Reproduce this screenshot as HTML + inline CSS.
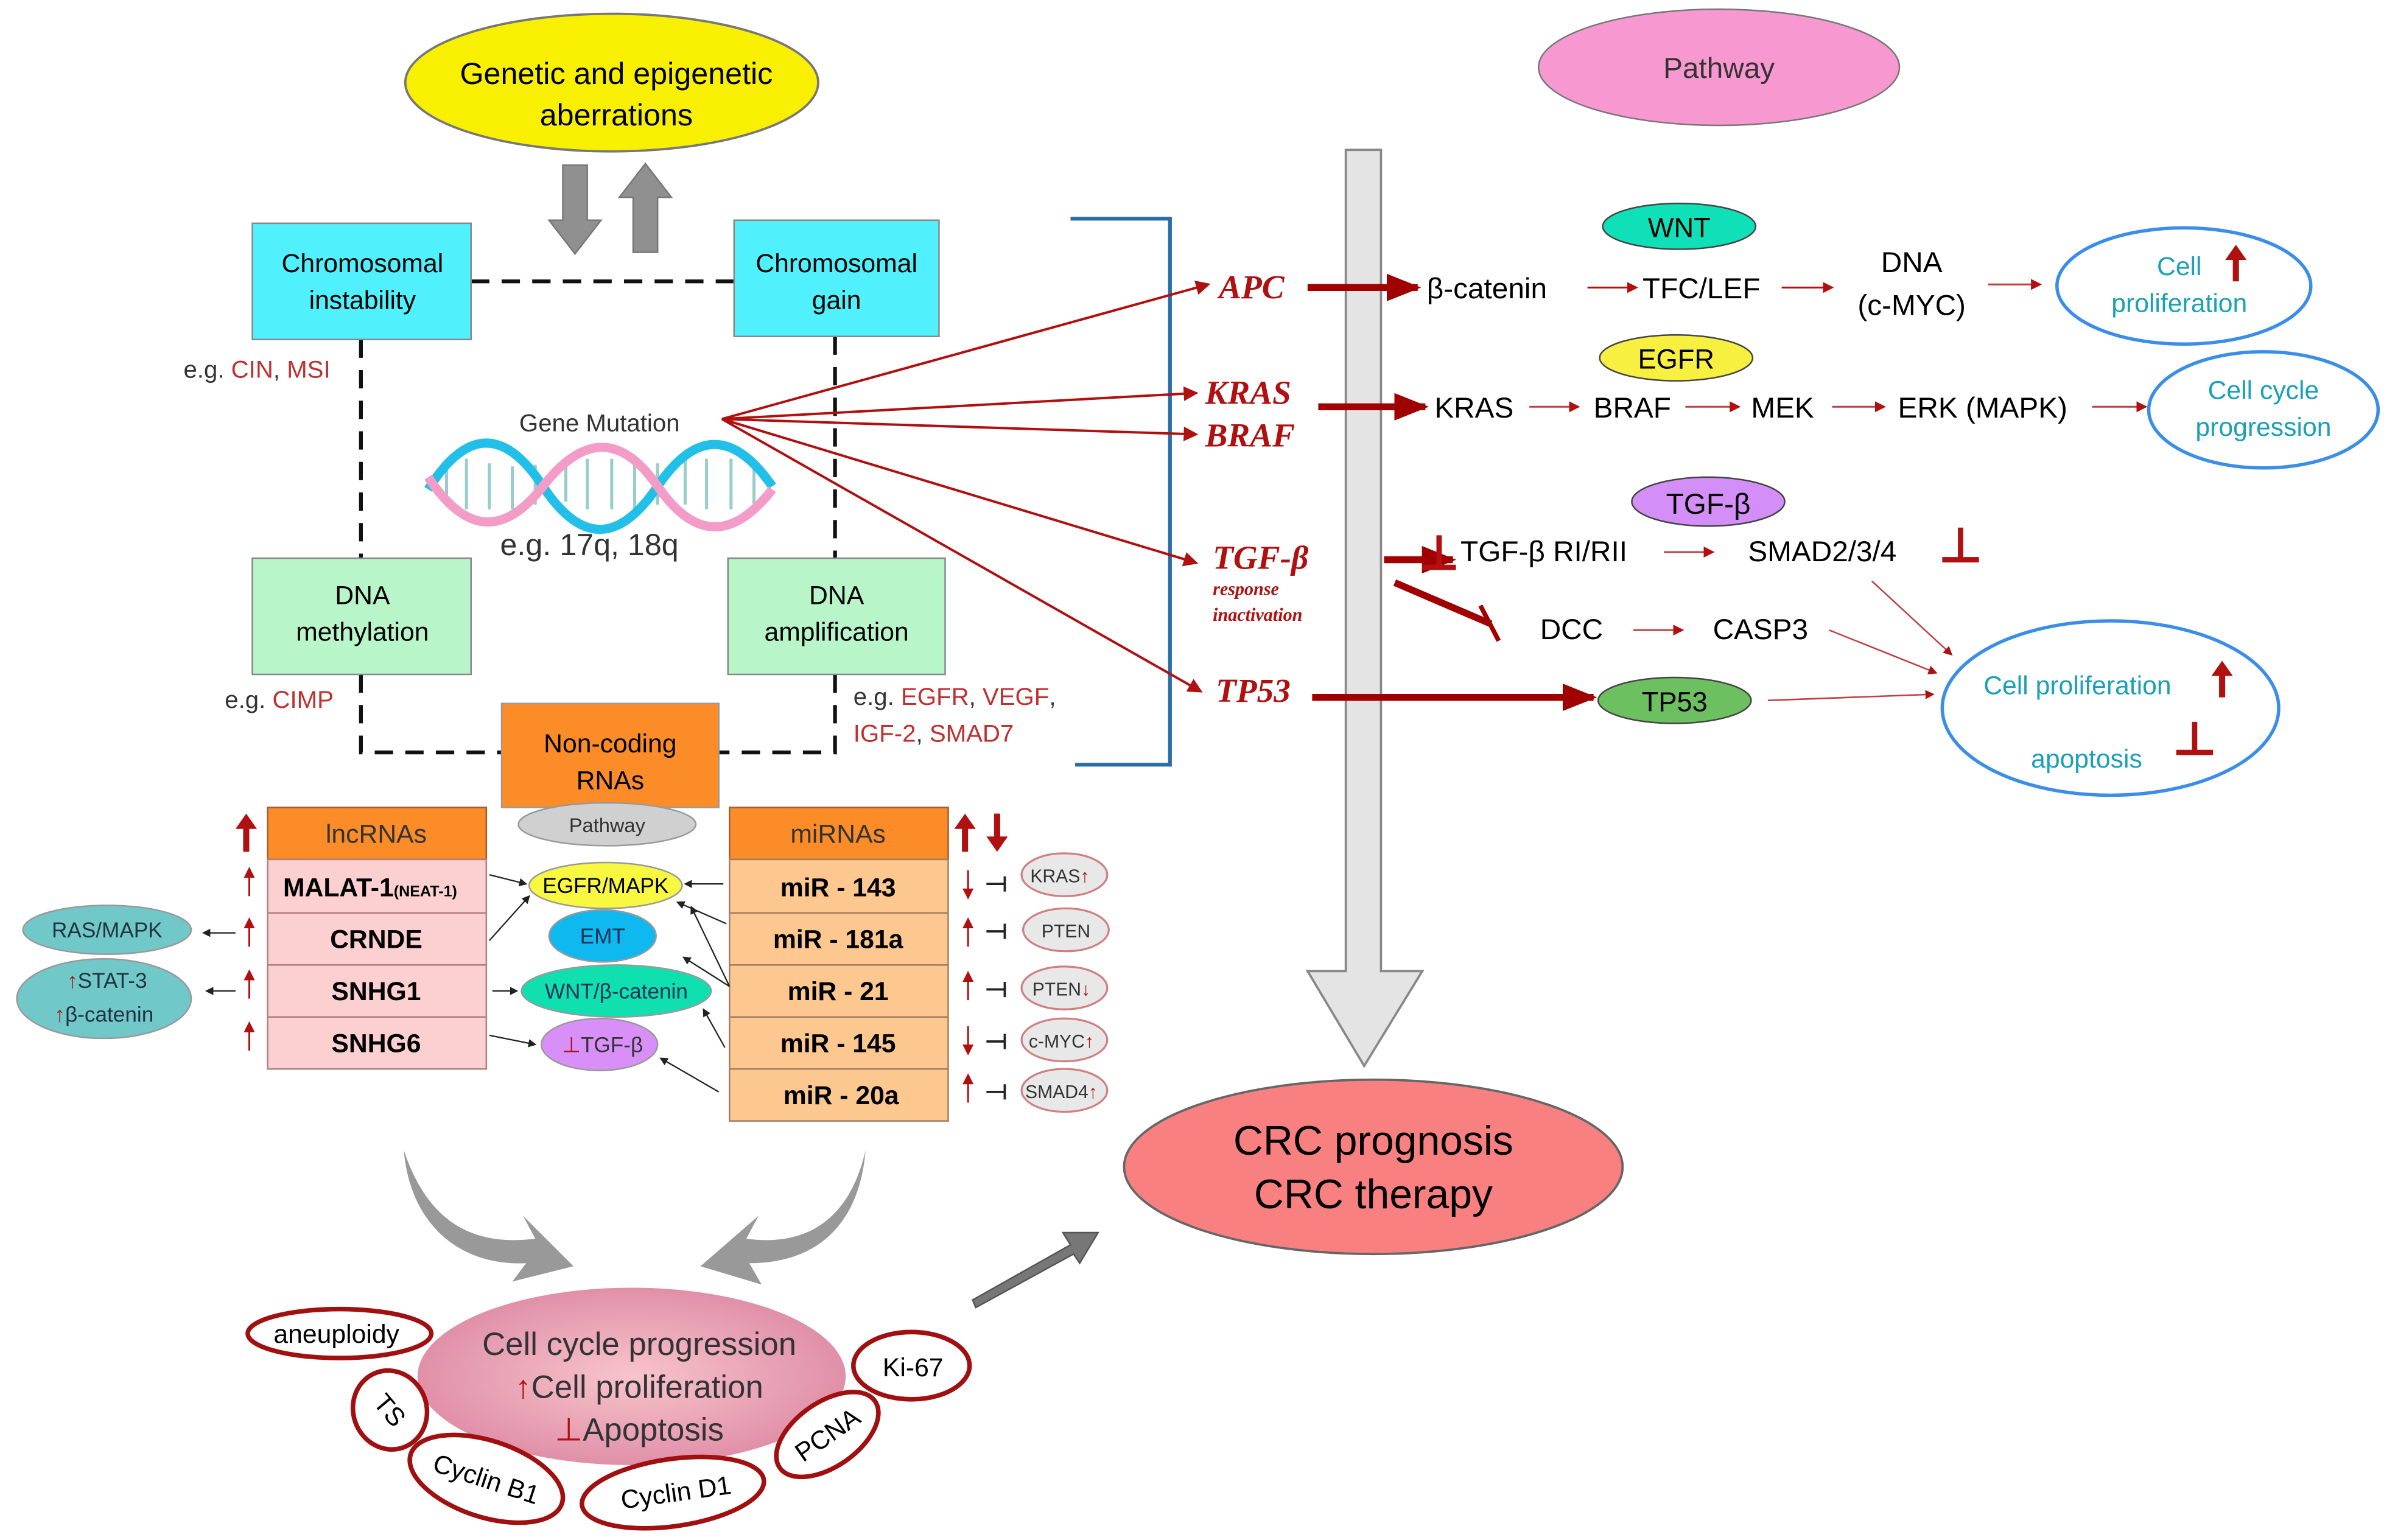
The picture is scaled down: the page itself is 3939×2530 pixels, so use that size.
<!DOCTYPE html>
<html><head><meta charset="utf-8"><style>
html,body{margin:0;padding:0;background:#fff;width:3939px;height:2530px;overflow:hidden}
svg{display:block}
text{font-family:"Liberation Sans","DejaVu Sans",sans-serif}
.ser{font-family:"Liberation Serif",serif;font-style:italic;font-weight:bold;fill:#b01010}
</style></head><body>
<svg width="3939" height="2530" viewBox="0 0 1568 1007" preserveAspectRatio="none" xmlns="http://www.w3.org/2000/svg">
<defs>
<marker id="ar" markerWidth="6" markerHeight="6" refX="5" refY="3" orient="auto" markerUnits="strokeWidth"><path d="M0,0 L6,3 L0,6 z" fill="#b01010"/></marker>
<marker id="ar2" markerWidth="5" markerHeight="4" refX="4.5" refY="2" orient="auto" markerUnits="strokeWidth"><path d="M0,0 L5,2 L0,4 z" fill="#a00000"/></marker>
<marker id="ak" markerWidth="6" markerHeight="6" refX="5" refY="3" orient="auto" markerUnits="strokeWidth"><path d="M0,0 L6,3 L0,6 z" fill="#222"/></marker>
<radialGradient id="pg" cx="50%" cy="50%" r="50%"><stop offset="0" stop-color="#f8c4cc"/><stop offset="1" stop-color="#e090a8"/></radialGradient>
</defs>

<!-- top ellipses -->
<ellipse cx="400" cy="54" rx="135" ry="45" fill="#f8f000" stroke="#777" stroke-width="1.5"/>
<text x="403" y="55" font-size="20" text-anchor="middle">Genetic and epigenetic</text>
<text x="403" y="82" font-size="20" text-anchor="middle">aberrations</text>
<ellipse cx="1124" cy="44" rx="118" ry="38" fill="#f898d0" stroke="#777"/>
<text x="1124" y="51" font-size="19" text-anchor="middle" fill="#333">Pathway</text>

<!-- gray small arrows -->
<path d="M368,108 h16 v36 h9 l-17,22 l-17,-22 h9 z" fill="#909090" stroke="#777"/>
<path d="M414,165 h16 v-36 h9 l-17,-22 l-17,22 h9 z" fill="#909090" stroke="#777"/>

<!-- dashed frame -->
<g stroke="#111" stroke-width="2.5" stroke-dasharray="12,8" fill="none">
<path d="M308,184 H480"/><path d="M236,222 V365"/><path d="M236,441 V492 H328"/>
<path d="M546,220 V365"/><path d="M546,441 V492 H470"/>
</g>
<rect x="165" y="146" width="143" height="76" fill="#50f0fc" stroke="#888"/>
<text x="237" y="178" font-size="17" text-anchor="middle">Chromosomal</text>
<text x="237" y="202" font-size="17" text-anchor="middle">instability</text>
<rect x="480" y="144" width="134" height="76" fill="#50f0fc" stroke="#888"/>
<text x="547" y="178" font-size="17" text-anchor="middle">Chromosomal</text>
<text x="547" y="202" font-size="17" text-anchor="middle">gain</text>
<rect x="165" y="365" width="143" height="76" fill="#b8f5c8" stroke="#888"/>
<text x="237" y="395" font-size="17" text-anchor="middle">DNA</text>
<text x="237" y="419" font-size="17" text-anchor="middle">methylation</text>
<rect x="476" y="365" width="142" height="76" fill="#b8f5c8" stroke="#888"/>
<text x="547" y="395" font-size="17" text-anchor="middle">DNA</text>
<text x="547" y="419" font-size="17" text-anchor="middle">amplification</text>
<rect x="328" y="460" width="142" height="68" fill="#fb8c28" stroke="#999"/>
<text x="399" y="492" font-size="17" text-anchor="middle">Non-coding</text>
<text x="399" y="516" font-size="17" text-anchor="middle">RNAs</text>

<text x="120" y="247" font-size="16" fill="#333">e.g. <tspan fill="#c03030">CIN</tspan>, <tspan fill="#c03030">MSI</tspan></text>
<text x="147" y="463" font-size="16" fill="#333">e.g. <tspan fill="#c03030">CIMP</tspan></text>
<text x="558" y="461" font-size="16" fill="#333">e.g. <tspan fill="#c03030">EGFR</tspan>, <tspan fill="#c03030">VEGF</tspan>,</text>
<text x="558" y="485" font-size="16" fill="#c03030">IGF-2<tspan fill="#333">, </tspan>SMAD7</text>

<text x="392" y="282" font-size="16" text-anchor="middle" fill="#333">Gene Mutation</text>
<g stroke-width="6" fill="none">
<g stroke="#9cc" stroke-width="2">
<path d="M292,300V330M305,300V333M320,303V333M335,305V333M350,304V330M370,300V328M384,300V333M400,300V333M415,303V333M430,303V330M448,300V330M462,300V333M478,300V333M493,303V333"/>
</g>
<path d="M280,320 C305,280 330,280 355,318 S405,355 430,318 S480,282 505,318" stroke="#22c0e8"/>
<path d="M280,312 C305,350 330,350 355,318 S405,282 430,318 S480,352 505,320" stroke="#f49cc8"/>
</g>
<text x="327" y="363" font-size="20" fill="#333">e.g. 17q, 18q</text>

<path d="M700,143 H765 V500 H703" fill="none" stroke="#2a6ea8" stroke-width="2.5"/>

<g stroke="#b01010" stroke-width="1.6" fill="none" marker-end="url(#ar)">
<path d="M472,274 L790,186"/><path d="M472,274 L782,257"/><path d="M472,274 L782,284"/>
<path d="M472,274 L782,368"/><path d="M472,274 L785,452"/>
</g>
<text x="797" y="195" font-size="22" class="ser">APC</text>
<text x="788" y="264" font-size="22" class="ser">KRAS</text>
<text x="788" y="292" font-size="22" class="ser">BRAF</text>
<text x="793" y="372" font-size="22" class="ser">TGF-β</text>
<text x="793" y="389" font-size="12" class="ser" font-style="normal">response</text>
<text x="793" y="406" font-size="12" class="ser" font-style="normal">inactivation</text>
<text x="795" y="459" font-size="22" class="ser">TP53</text>

<path d="M880,98 H903 V635 H930 L892,697 L855,635 H880 Z" fill="#e4e4e4" stroke="#888" stroke-width="1.5"/>

<g stroke="#a00000" stroke-width="4.5" fill="none" marker-end="url(#ar2)">
<path d="M855,188 H927"/><path d="M862,266 H932"/><path d="M905,366 H950"/><path d="M858,456 H1042"/>
</g>
<path d="M912,381 L975,408" stroke="#a00000" stroke-width="4.5"/>
<path d="M968,396 L980,419" stroke="#a00000" stroke-width="3"/>

<ellipse cx="1098" cy="148" rx="50" ry="15" fill="#10e0b8" stroke="#444"/>
<text x="1098" y="155" font-size="18" text-anchor="middle">WNT</text>
<text x="933" y="195" font-size="19">β-catenin</text>
<path d="M1038,188 H1070" stroke="#b01010" stroke-width="1.2" marker-end="url(#ar)"/>
<text x="1074" y="195" font-size="19">TFC/LEF</text>
<path d="M1165,188 H1198" stroke="#b01010" stroke-width="1.2" marker-end="url(#ar)"/>
<text x="1250" y="178" font-size="19" text-anchor="middle">DNA</text>
<text x="1250" y="206" font-size="19" text-anchor="middle">(c-MYC)</text>
<path d="M1300,186 H1334" stroke="#c04040" stroke-width="1.2" marker-end="url(#ar)"/>
<ellipse cx="1428" cy="187" rx="83" ry="38" fill="none" stroke="#3a8ee8" stroke-width="2.2"/>
<text x="1425" y="180" font-size="17" text-anchor="middle" fill="#1aa0b8">Cell</text>
<text x="1425" y="204" font-size="17" text-anchor="middle" fill="#1aa0b8">proliferation</text>
<path d="M1460,184 V170 h-5 l7,-10 l7,10 h-5 V184 z" fill="#b01010"/>

<ellipse cx="1096" cy="234" rx="50" ry="15" fill="#f8f040" stroke="#444"/>
<text x="1096" y="241" font-size="18" text-anchor="middle">EGFR</text>
<text x="938" y="273" font-size="19">KRAS</text>
<path d="M1000,266 H1032" stroke="#c04040" stroke-width="1.2" marker-end="url(#ar)"/>
<text x="1042" y="273" font-size="19">BRAF</text>
<path d="M1102,266 H1137" stroke="#c04040" stroke-width="1.2" marker-end="url(#ar)"/>
<text x="1145" y="273" font-size="19">MEK</text>
<path d="M1198,266 H1232" stroke="#c04040" stroke-width="1.2" marker-end="url(#ar)"/>
<text x="1241" y="273" font-size="19">ERK (MAPK)</text>
<path d="M1368,266 H1403" stroke="#c04040" stroke-width="1.2" marker-end="url(#ar)"/>
<ellipse cx="1480" cy="268" rx="75" ry="38" fill="none" stroke="#3a8ee8" stroke-width="2.2"/>
<text x="1480" y="261" font-size="17" text-anchor="middle" fill="#1aa0b8">Cell cycle</text>
<text x="1480" y="285" font-size="17" text-anchor="middle" fill="#1aa0b8">progression</text>

<ellipse cx="1117" cy="328" rx="50" ry="16" fill="#d48ef8" stroke="#444"/>
<text x="1117" y="336" font-size="19" text-anchor="middle">TGF-β</text>
<path d="M930,371 h22 M941,371 V350" stroke="#b01010" stroke-width="3.5"/>
<text x="955" y="367" font-size="19">TGF-β RI/RII</text>
<path d="M1088,361 H1120" stroke="#c04040" stroke-width="1.2" marker-end="url(#ar)"/>
<text x="1143" y="367" font-size="19">SMAD2/3/4</text>
<path d="M1270,366 h24 M1282,366 V345" stroke="#b01010" stroke-width="3.5"/>
<text x="1007" y="418" font-size="19">DCC</text>
<path d="M1068,412 H1100" stroke="#c04040" stroke-width="1.2" marker-end="url(#ar)"/>
<text x="1120" y="418" font-size="19">CASP3</text>
<path d="M1224,380 L1276,428" stroke="#c04040" stroke-width="1" marker-end="url(#ar)"/>
<path d="M1196,412 L1266,440" stroke="#c04040" stroke-width="1" marker-end="url(#ar)"/>
<ellipse cx="1095" cy="458" rx="50" ry="15" fill="#6cc060" stroke="#444"/>
<text x="1095" y="465" font-size="18" text-anchor="middle">TP53</text>
<path d="M1156,458 L1264,454" stroke="#c04040" stroke-width="1" marker-end="url(#ar)"/>
<ellipse cx="1380" cy="463" rx="110" ry="57" fill="none" stroke="#3a8ee8" stroke-width="2.2"/>
<text x="1297" y="454" font-size="17" fill="#1aa0b8">Cell proliferation</text>
<path d="M1451,456 V442 h-5 l7,-10 l7,10 h-5 V456 z" fill="#b01010"/>
<text x="1328" y="502" font-size="17" fill="#1aa0b8">apoptosis</text>
<path d="M1423,492 h24 M1435,492 V472" stroke="#b01010" stroke-width="3.5"/>

<ellipse cx="898" cy="763" rx="163" ry="57" fill="#f88080" stroke="#666" stroke-width="1.5"/>
<text x="898" y="755" font-size="27" text-anchor="middle">CRC prognosis</text>
<text x="898" y="790" font-size="27" text-anchor="middle">CRC therapy</text>

<rect x="175" y="528" width="143" height="34" fill="#fb8c28" stroke="#a06030"/>
<text x="246" y="551" font-size="17" text-anchor="middle" fill="#333">lncRNAs</text>
<g fill="#fcd0d0" stroke="#b08080">
<rect x="175" y="562" width="143" height="35"/><rect x="175" y="597" width="143" height="34"/>
<rect x="175" y="631" width="143" height="34"/><rect x="175" y="665" width="143" height="34"/>
</g>
<g font-size="17" font-weight="bold" text-anchor="middle">
<text x="242" y="586">MALAT-1<tspan font-size="10">(NEAT-1)</tspan></text>
<text x="246" y="620">CRNDE</text><text x="246" y="654">SNHG1</text><text x="246" y="688">SNHG6</text>
</g>
<rect x="477" y="528" width="143" height="34" fill="#fb8c28" stroke="#a06030"/>
<text x="548" y="551" font-size="17" text-anchor="middle" fill="#333">miRNAs</text>
<g fill="#fdc890" stroke="#a08060">
<rect x="477" y="562" width="143" height="35"/><rect x="477" y="597" width="143" height="34"/>
<rect x="477" y="631" width="143" height="34"/><rect x="477" y="665" width="143" height="34"/><rect x="477" y="699" width="143" height="34"/>
</g>
<g font-size="17" font-weight="bold" text-anchor="middle">
<text x="548" y="586">miR - 143</text><text x="548" y="620">miR - 181a</text><text x="548" y="654">miR - 21</text>
<text x="548" y="688">miR - 145</text><text x="550" y="722">miR - 20a</text>
</g>
<g fill="#b01010">
<path d="M159,557 V542 h-5 l7,-10 l7,10 h-5 V557 z"/>
<path d="M629,557 V542 h-5 l7,-10 l7,10 h-5 V557 z"/>
<path d="M650,532 V547 h-5 l7,10 l7,-10 h-5 V532 z"/>
</g>
<g stroke="#b01010" stroke-width="1.2" marker-end="url(#ar)">
<path d="M163,586 V568"/><path d="M163,619 V601"/><path d="M163,653 V635"/><path d="M163,687 V669"/>
<path d="M633,569 V587"/><path d="M633,619 V601"/><path d="M633,654 V636"/><path d="M633,671 V689"/><path d="M633,721 V703"/>
</g>
<g stroke="#222" stroke-width="1.5">
<path d="M645,578 h12 M657,573 v10"/><path d="M645,609 h12 M657,604 v10"/><path d="M645,647 h12 M657,642 v10"/><path d="M645,681 h12 M657,676 v10"/><path d="M645,714 h12 M657,709 v10"/>
</g>
<g fill="#e8e8e8" stroke="#d08080" stroke-width="1.3">
<ellipse cx="696" cy="572" rx="28" ry="14"/><ellipse cx="697" cy="608" rx="28" ry="14"/><ellipse cx="696" cy="646" rx="28" ry="14"/><ellipse cx="696" cy="680" rx="28" ry="14"/><ellipse cx="696" cy="713" rx="28" ry="14"/>
</g>
<g font-size="12" text-anchor="middle" fill="#333">
<text x="693" y="577">KRAS<tspan fill="#b01010">↑</tspan></text><text x="697" y="613">PTEN</text><text x="694" y="651">PTEN<tspan fill="#b01010">↓</tspan></text>
<text x="694" y="685">c-MYC<tspan fill="#b01010">↑</tspan></text><text x="694" y="718">SMAD4<tspan fill="#b01010">↑</tspan></text>
</g>

<ellipse cx="397" cy="539" rx="58" ry="14" fill="#d0d0d0" stroke="#999"/>
<text x="397" y="544" font-size="13" text-anchor="middle" fill="#333">Pathway</text>
<ellipse cx="396" cy="579" rx="50" ry="15" fill="#f8f840" stroke="#999"/>
<text x="396" y="584" font-size="14" text-anchor="middle">EGFR/MAPK</text>
<ellipse cx="394" cy="612" rx="35" ry="17" fill="#10b8f0" stroke="#999"/>
<text x="394" y="617" font-size="14" text-anchor="middle" fill="#135">EMT</text>
<ellipse cx="403" cy="648" rx="62" ry="17" fill="#10e0b0" stroke="#999"/>
<text x="403" y="653" font-size="14" text-anchor="middle" fill="#135">WNT/β-catenin</text>
<ellipse cx="392" cy="683" rx="38" ry="17" fill="#d890f8" stroke="#999"/>
<text x="394" y="688" font-size="14" text-anchor="middle" fill="#333"><tspan fill="#b01010">⊥</tspan>TGF-β</text>

<g stroke="#222" stroke-width="0.9" fill="none" marker-end="url(#ak)">
<path d="M320,572 L344,578"/><path d="M320,615 L346,586"/><path d="M322,648 L338,648"/><path d="M320,677 L350,683"/>
<path d="M473,578 L448,578"/><path d="M475,604 L443,590"/><path d="M477,645 L452,593"/><path d="M477,645 L447,626"/><path d="M474,685 L460,660"/><path d="M470,714 L432,692"/>
<path d="M154,610 L133,610"/><path d="M154,648 L135,648"/>
</g>
<ellipse cx="70" cy="608" rx="55" ry="16" fill="#70c8c8" stroke="#999"/>
<text x="70" y="613" font-size="14" text-anchor="middle" fill="#234">RAS/MAPK</text>
<ellipse cx="68" cy="653" rx="57" ry="26" fill="#70c8c8" stroke="#999"/>
<text x="70" y="646" font-size="14" text-anchor="middle" fill="#234"><tspan fill="#b01010">↑</tspan>STAT-3</text>
<text x="68" y="668" font-size="14" text-anchor="middle" fill="#234"><tspan fill="#b01010">↑</tspan>β-catenin</text>

<path d="M264,752 C280,800 310,815 350,810 L342,795 L375,828 L335,838 L344,826 C300,828 268,800 264,752 Z" fill="#999"/>
<path d="M566,752 C555,800 525,815 488,810 L496,795 L458,828 L498,840 L490,826 C535,826 562,800 566,752 Z" fill="#999"/>
<path d="M636,850 L700,814 L695,806 L718,806 L706,826 L702,820 L638,855 Z" fill="#777" stroke="#555"/>

<ellipse cx="413" cy="900" rx="140" ry="58" fill="url(#pg)"/>
<text x="418" y="886" font-size="21" text-anchor="middle" fill="#333">Cell cycle progression</text>
<text x="418" y="914" font-size="21" text-anchor="middle" fill="#333"><tspan fill="#b01010">↑</tspan>Cell proliferation</text>
<text x="418" y="942" font-size="21" text-anchor="middle" fill="#333"><tspan fill="#b01010">⊥</tspan>Apoptosis</text>
<g fill="#fff" stroke="#a01010" stroke-width="3">
<ellipse cx="222" cy="872" rx="60" ry="16"/>
<ellipse cx="255" cy="922" rx="24" ry="26" transform="rotate(-20 255 922)"/>
<ellipse cx="318" cy="967" rx="52" ry="25" transform="rotate(18 318 967)"/>
<ellipse cx="440" cy="976" rx="60" ry="22" transform="rotate(-8 440 976)"/>
<ellipse cx="541" cy="938" rx="38" ry="21" transform="rotate(-35 541 938)"/>
<ellipse cx="596" cy="893" rx="38" ry="22"/>
</g>
<g font-size="17" text-anchor="middle">
<text x="220" y="878">aneuploidy</text>
<text x="255" y="928" transform="rotate(50 255 922)">TS</text>
<text x="318" y="973" transform="rotate(18 318 967)">Cyclin B1</text>
<text x="442" y="982" transform="rotate(-8 440 976)">Cyclin D1</text>
<text x="541" y="944" transform="rotate(-35 541 938)">PCNA</text>
<text x="597" y="900">Ki-67</text>
</g>
</svg>
</body></html>
